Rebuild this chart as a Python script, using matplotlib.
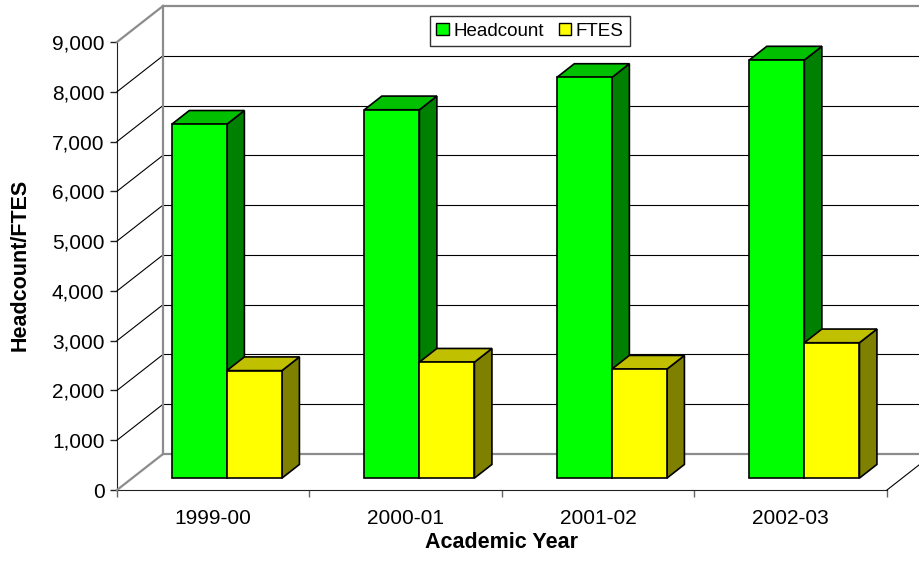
import matplotlib

matplotlib.use("Agg")

import matplotlib.pyplot as plt
from matplotlib.patches import Patch, Polygon
from matplotlib.lines import Line2D
from matplotlib.transforms import IdentityTransform

years = ["1999-00", "2000-01", "2001-02", "2002-03"]
headcount = [7110, 7400, 8050, 8400]
ftes = [2160, 2330, 2190, 2720]
series = [("Headcount", headcount), ("FTES", ftes)]

FACE = {"Headcount": "#00FF00", "FTES": "#FFFF00"}
TOP = {"Headcount": "#00C000", "FTES": "#C0C000"}
SIDE = {"Headcount": "#008000", "FTES": "#808000"}

# oblique depth of the chart box, display pixels (dpi=100)
DEPTH_DX, DEPTH_DY = 46, 36
BAR_D0, BAR_D1 = 0.33, 0.71
BAR_W = 0.286
YMAX = 9000

plt.rcParams["font.family"] = ["Liberation Sans", "DejaVu Sans"]

W, H = 920, 569
fig = plt.figure(figsize=(W / 100, H / 100), dpi=100)
ax = fig.add_axes([117 / W, (H - 490) / H, 770 / W, 448 / H])
ax.set_xlim(-0.5, len(years) - 0.5)
ax.set_ylim(0, YMAX)
ax.patch.set_visible(False)


def proj(x, y, d):
    px, py = ax.transData.transform((x, y))
    return (px + d * DEPTH_DX, py + d * DEPTH_DY)


def seg(p, q, color, lw, z):
    fig.add_artist(Line2D([p[0], q[0]], [p[1], q[1]], color=color, lw=lw,
                          transform=IdentityTransform(), zorder=z))


def poly(pts, color, z):
    fig.add_artist(Polygon(pts, closed=True, facecolor=color, edgecolor="black",
                           lw=1.2, transform=IdentityTransform(), zorder=z,
                           joinstyle="miter"))


x0, x1 = -0.5, len(years) - 0.5
wall = "#8c8c8c"
# gridlines on side and back walls
for v in range(1000, YMAX, 1000):
    seg(proj(x0, v, 0), proj(x0, v, 1), "black", 0.8, 1)
    seg(proj(x0, v, 1), proj(x1 + 1, v, 1), "black", 0.8, 1)
# wall frame
seg(proj(x0, 0, 1), proj(x0, YMAX, 1), wall, 1.6, 1.5)
seg(proj(x0, YMAX, 1), proj(x1 + 1, YMAX, 1), wall, 1.6, 1.5)
seg(proj(x0, 0, 1), proj(x1 + 1, 0, 1), wall, 1.6, 1.5)
seg(proj(x0, YMAX, 0), proj(x0, YMAX, 1), wall, 1.6, 1.5)
seg(proj(x0, 0, 0), proj(x0, 0, 1), wall, 1.6, 1.5)
seg(proj(x1, 0, 0), proj(x1, 0, 1), "black", 0.8, 1.5)

# 3D bars
z = 3
for i in range(len(years)):
    for k, (name, vals) in enumerate(series):
        left = i - BAR_W + k * BAR_W - 0.008
        right = left + BAR_W
        v = vals[i]
        poly([proj(right, 0, BAR_D0), proj(right, 0, BAR_D1),
              proj(right, v, BAR_D1), proj(right, v, BAR_D0)], SIDE[name], z)
        poly([proj(left, v, BAR_D0), proj(right, v, BAR_D0),
              proj(right, v, BAR_D1), proj(left, v, BAR_D1)], TOP[name], z)
        poly([proj(left, 0, BAR_D0), proj(right, 0, BAR_D0),
              proj(right, v, BAR_D0), proj(left, v, BAR_D0)], FACE[name], z)
        z += 1

# axes
for side in ["top", "right"]:
    ax.spines[side].set_visible(False)
ax.spines["left"].set_color("#222222")
ax.spines["bottom"].set_color("#222222")
ax.set_yticks(range(0, YMAX + 1, 1000))
ax.set_yticklabels([f"{v:,}" for v in range(0, YMAX + 1, 1000)])
ax.set_xticks(range(len(years)))
ax.set_xticklabels(years)
ax.set_xticks([i - 0.5 for i in range(len(years) + 1)], minor=True)
ax.tick_params(axis="y", length=5, width=1, pad=4, labelsize=15, colors="#222222",
               labelcolor="black")
ax.tick_params(axis="x", which="major", length=0, pad=14, labelsize=15)
ax.tick_params(axis="x", which="minor", length=5, width=1, colors="#666666")

fig.text(20 / W, 1 - 265 / H, "Headcount/FTES", rotation=90, ha="center",
         va="center", fontsize=15.5, fontweight="bold")
fig.text(502 / W, 1 - 543 / H, "Academic Year", ha="center", va="center",
         fontsize=15.5, fontweight="bold")

handles = [Patch(facecolor=FACE[n], edgecolor="black", lw=1) for n, _ in series]
leg = fig.legend(handles, [n for n, _ in series], loc="center", ncol=2,
                 bbox_to_anchor=(530 / W, 1 - 31 / H), fontsize=13.5,
                 frameon=True, fancybox=False, handlelength=0.65,
                 handleheight=0.65, handletextpad=0.25, columnspacing=0.8,
                 borderpad=0.35)
leg.get_frame().set_edgecolor("black")
leg.get_frame().set_linewidth(1)
leg.set_zorder(20)

fig.savefig("out.png", dpi=100)
